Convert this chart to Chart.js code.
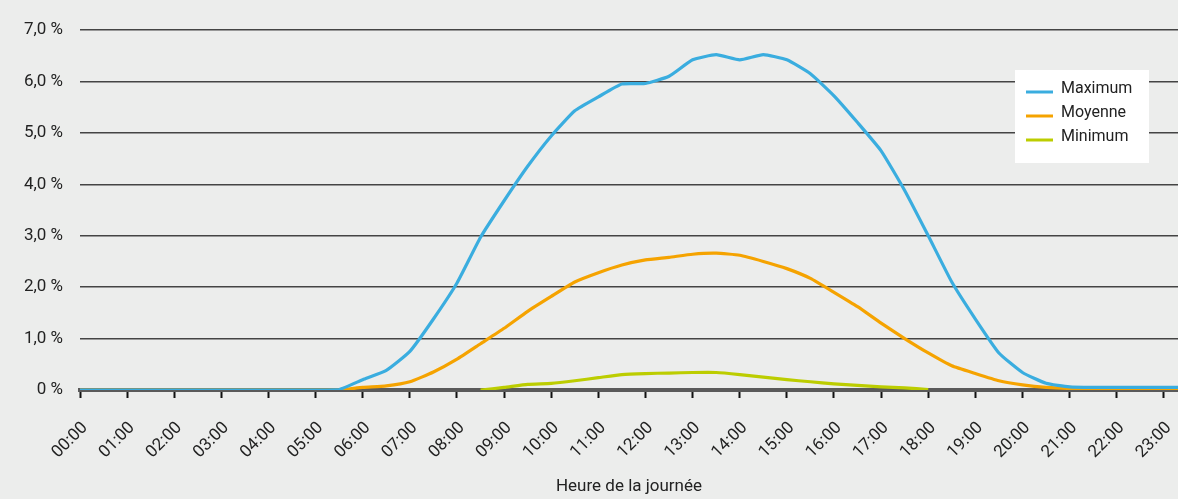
<!DOCTYPE html>
<html lang="fr">
<head>
<meta charset="utf-8">
<title>Profil journalier</title>
<script src="https://cdn.jsdelivr.net/npm/chart.js@4/dist/chart.umd.min.js"></script>
<style>
    html, body { margin: 0; padding: 0; background: #ecedec; }
    #wrap { width: 1178px; height: 499px; }
</style>
</head>
<body>
<div id="wrap"><canvas id="dayChart" width="1178" height="499"></canvas></div>
<script>
// heures (pas de 30 min)
const hours = [
    0, 0.5, 1, 1.5, 2, 2.5, 3, 3.5, 4, 4.5, 5, 5.5,
    6, 6.5, 7, 7.5, 8, 8.5, 9, 9.5, 10, 10.5, 11, 11.5,
    12, 12.5, 13, 13.5, 14, 14.5, 15, 15.5, 16, 16.5, 17, 17.5,
    18, 18.5, 19, 19.5, 20, 20.5, 21, 21.5, 22, 22.5, 23, 23.5
];

const maximum = [
    0, 0, 0, 0, 0, 0, 0, 0, 0, 0, 0, 0.01,
    0.2, 0.38, 0.75, 1.38, 2.08, 2.97, 3.68, 4.35, 4.94, 5.43, 5.70, 5.95,
    5.96, 6.10, 6.42, 6.52, 6.42, 6.52, 6.42, 6.15, 5.72, 5.20, 4.65, 3.88,
    3.00, 2.10, 1.38, 0.72, 0.34, 0.13, 0.06, 0.05, 0.05, 0.05, 0.05, 0.05
];

const moyenne = [
    0, 0, 0, 0, 0, 0, 0, 0, 0, 0, 0, 0,
    0.05, 0.08, 0.16, 0.35, 0.60, 0.90, 1.20, 1.53, 1.82, 2.10, 2.28, 2.43,
    2.53, 2.58, 2.64, 2.66, 2.62, 2.50, 2.36, 2.17, 1.90, 1.62, 1.30, 1.00,
    0.72, 0.47, 0.32, 0.18, 0.10, 0.05, 0.03, 0.03, 0.03, 0.03, 0.03, 0.03
];

// null = ligne cachée sous l'axe
const minimum = [
    null, null, null, null, null, null, null, null, null, null, null, null,
    null, null, null, null, null, 0, 0.05, 0.11, 0.13, 0.18, 0.24, 0.30,
    0.32, 0.33, 0.34, 0.34, 0.30, 0.25, 0.20, 0.16, 0.12, 0.09, 0.06, 0.04,
    0.01, null, null, null, null, null, null, null, null, null, null, null
];

const hourLabels = [
    '00:00', '01:00', '02:00', '03:00', '04:00', '05:00', '06:00', '07:00',
    '08:00', '09:00', '10:00', '11:00', '12:00', '13:00', '14:00', '15:00',
    '16:00', '17:00', '18:00', '19:00', '20:00', '21:00', '22:00', '23:00'
];
const yTickLabels = ['0 %', '1,0 %', '2,0 %', '3,0 %', '4,0 %', '5,0 %', '6,0 %', '7,0 %'];

const seriesNames = ['Maximum', 'Moyenne', 'Minimum'];
const seriesColors = ['#3aaddf', '#f5a300', '#bccd00'];

const FONT = 'Roboto, "Noto Sans", sans-serif';

const toPoints = (values) => values.map((v, i) => ({ x: hours[i], y: v }));

const background = {
    id: 'background',
    beforeDraw(chart) {
        const ctx = chart.ctx;
        ctx.save();
        ctx.fillStyle = '#ecedec';
        ctx.fillRect(0, 0, chart.width, chart.height);
        ctx.restore();
    },
};

// légende dans un cadre blanc, en haut à droite
const boxLegend = {
    id: 'boxLegend',
    afterDraw(chart) {
        const ctx = chart.ctx;
        const left = 1015, top = 70, w = 134, h = 93;
        ctx.save();
        ctx.fillStyle = '#ffffff';
        ctx.fillRect(left, top, w, h);
        ctx.font = '16px ' + FONT;
        ctx.textBaseline = 'middle';
        chart.data.datasets.forEach((ds, i) => {
            const y = top + 22 + i * 24;
            ctx.strokeStyle = ds.borderColor;
            ctx.lineWidth = 3;
            ctx.beginPath();
            ctx.moveTo(left + 11, y);
            ctx.lineTo(left + 38, y);
            ctx.stroke();
            ctx.fillStyle = '#222222';
            ctx.fillText(ds.label, left + 46, y - 3);
        });
        ctx.restore();
    },
};

const ctx = document.getElementById('dayChart').getContext('2d');
new Chart(ctx, {
    type: 'line',
    data: {
        datasets: [
            {
                label: seriesNames[0],
                data: toPoints(maximum),
                borderColor: seriesColors[0],
                borderWidth: 3.2,
                pointRadius: 0,
                tension: 0.15,
            },
            {
                label: seriesNames[1],
                data: toPoints(moyenne),
                borderColor: seriesColors[1],
                borderWidth: 3.2,
                pointRadius: 0,
                tension: 0.15,
            },
            {
                label: seriesNames[2],
                data: toPoints(minimum),
                borderColor: seriesColors[2],
                borderWidth: 3.2,
                pointRadius: 0,
                tension: 0.15,
                spanGaps: false,
            },
        ],
    },
    options: {
        responsive: false,
        animation: false,
        layout: { padding: { top: 30, right: 0, bottom: 0, left: 0 } },
        plugins: {
            legend: { display: false },
            tooltip: { enabled: false },
        },
        scales: {
            x: {
                type: 'linear',
                min: 0,
                max: 23.3,
                afterBuildTicks: (scale) => {
                    scale.ticks = hourLabels.map((_, i) => ({ value: i }));
                },
                afterFit: (scale) => {
                    scale.height = 109;
                    scale.paddingRight = 0;
                    scale.paddingLeft = 0;
                },
                grid: {
                    drawOnChartArea: false,
                    drawTicks: true,
                    tickLength: 8,
                    tickColor: '#111111',
                    tickWidth: 2,
                },
                border: { display: true, color: '#5a5a5a', width: 4 },
                ticks: {
                    autoSkip: false,
                    minRotation: 45,
                    maxRotation: 45,
                    padding: 20,
                    labelOffset: 5,
                    color: '#222222',
                    font: { family: FONT, size: 17 },
                    callback: (value) => hourLabels[value] ?? '',
                },
                title: {
                    display: true,
                    text: 'Heure de la journée',
                    color: '#222222',
                    font: { family: FONT, size: 17 },
                    padding: { top: 0, bottom: 2 },
                },
            },
            y: {
                min: 0,
                max: 7,
                afterFit: (scale) => { scale.width = 80; },
                grid: {
                    color: '#444444',
                    lineWidth: 1.5,
                    drawTicks: false,
                },
                border: { display: false },
                ticks: {
                    stepSize: 1,
                    padding: 17,
                    color: '#222222',
                    font: { family: FONT, size: 17 },
                    callback: (value) => yTickLabels[value] ?? '',
                },
            },
        },
    },
    plugins: [background, boxLegend],
});
</script>
</body>
</html>
